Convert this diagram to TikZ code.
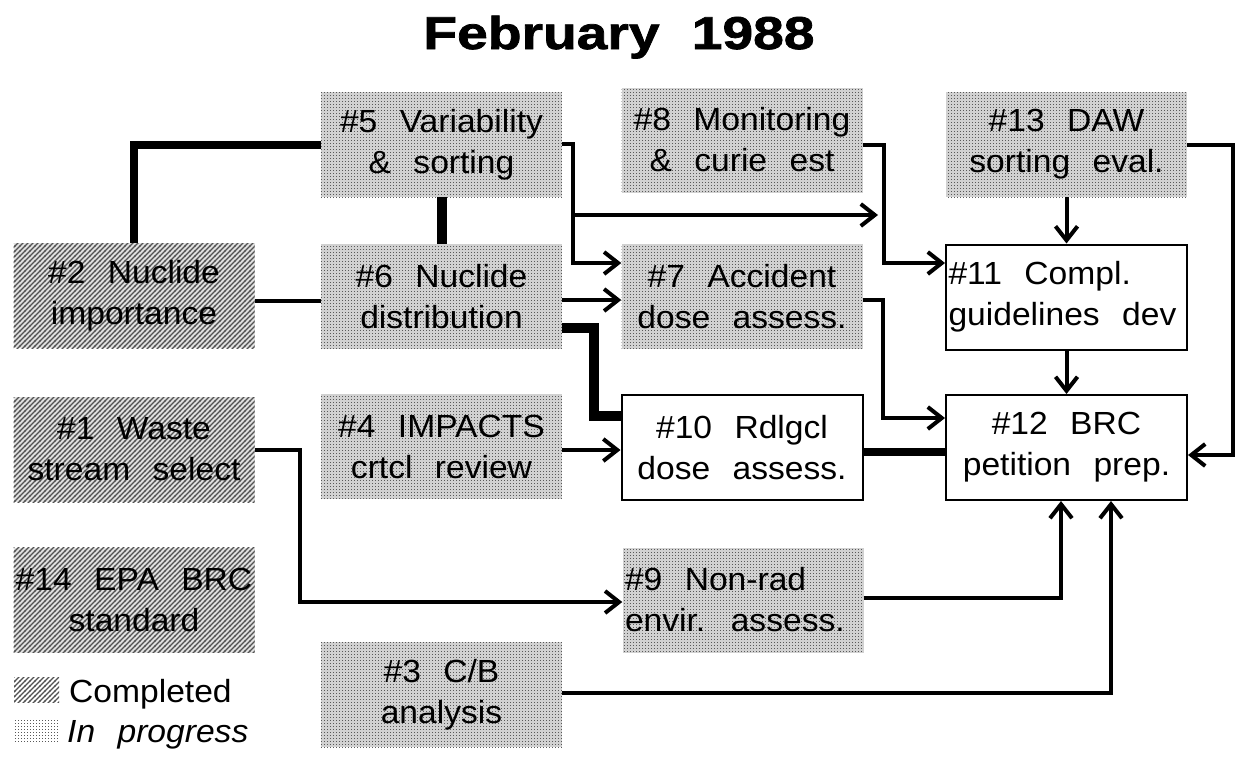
\documentclass[tikz,border=0pt]{standalone}
\usepackage{fontspec}
\setmainfont{Liberation Sans}[FakeStretch=1.05, WordSpace=2.4]
\newfontfamily\titlefont{Liberation Sans}[FakeStretch=1.2, WordSpace=2.1, FakeBold=1.6]
\usetikzlibrary{arrows.meta,patterns}
\pgfdeclarepatternformonly{myhatch}{\pgfqpoint{-1pt}{-1pt}}{\pgfqpoint{6pt}{6pt}}{\pgfqpoint{5pt}{5pt}}{%
  \pgfsetlinewidth{1.2pt}\pgfpathmoveto{\pgfqpoint{-0.5pt}{-0.5pt}}\pgfpathlineto{\pgfqpoint{5.5pt}{5.5pt}}\pgfusepath{stroke}}
\pgfdeclarepatternformonly{mydots}{\pgfqpoint{0pt}{0pt}}{\pgfqpoint{3pt}{3pt}}{\pgfqpoint{3pt}{3pt}}{%
  \pgfpathrectangle{\pgfqpoint{0pt}{0pt}}{\pgfqpoint{1.2pt}{1.2pt}}\pgfusepath{fill}}
\definecolor{hatchbg}{gray}{0.88}
\definecolor{hatchfg}{gray}{0.32}
\definecolor{dotbg}{gray}{0.82}
\definecolor{dotfg}{gray}{0.35}
\newcommand\CL[1]{\makebox[236pt][c]{#1}}
\newcommand\LL[1]{\makebox[236pt][l]{#1}}
\tikzset{
  box/.style={minimum width=241pt, minimum height=105pt, inner sep=0pt, align=center,
    font=\fontsize{32}{41}\selectfont},
  done/.style={box, preaction={fill=hatchbg}, pattern=myhatch, pattern color=hatchfg},
  prog/.style={box, preaction={fill=dotbg}, pattern=mydots, pattern color=dotfg},
  plain/.style={box, draw=black, line width=2pt, fill=white},
  arr/.style={line width=4pt, line join=miter, -{Straight Barb[length=14pt,width=22pt]}},
  ln/.style={line width=4.5pt},
  med/.style={line width=8pt, line join=miter},
  heavy/.style={line width=10pt, line join=miter},
  legtext/.style={font=\fontsize{32}{41}\selectfont, inner sep=0pt},
}
\begin{document}
\begin{tikzpicture}[x=1pt, y=-1pt]
\fill[white] (0,0) rectangle (1238,756);
\useasboundingbox (0,0) rectangle (1238,756);

\node[anchor=base, inner sep=0pt, font=\titlefont\bfseries\fontsize{46}{50}\selectfont] (title) at (619,49) {February 1988};

% row 1
\node[prog] (n5) at (441.5,144.5) {\CL{\#5 Variability}\\\CL{\& sorting}};
\node[prog] (n8) at (742,140) {\CL{\#8 Monitoring}\\\CL{\& curie est}};
\node[prog] (n13) at (1066.5,144.5) {\CL{\#13 DAW}\\\CL{sorting eval.}};
% row 2
\node[done] (n2) at (134,295.5) {\CL{\#2 Nuclide}\\\CL{importance}};
\node[prog] (n6) at (441.5,296.5) {\CL{\#6 Nuclide}\\\CL{distribution}};
\node[prog] (n7) at (742,296.5) {\CL{\#7 Accident}\\\CL{dose assess.}};
\node[plain] (n11) at (1066.5,297) {\LL{\#11 Compl.}\\\LL{guidelines dev}};
% row 3
\node[done] (n1) at (134,449.5) {\CL{\#1 Waste}\\\CL{stream select}};
\node[prog] (n4) at (441.5,446.5) {\CL{\#4 IMPACTS}\\\CL{crtcl review}};
\node[plain] (n10) at (742,447.5) {\CL{\#10 Rdlgcl}\\\CL{dose assess.}};
\node[plain] (n12) at (1066.5,447.5) {\CL{\#12 BRC}\\\CL{petition prep.}};
% row 4
\node[done] (n14) at (134,600) {\CL{\#14 EPA BRC}\\\CL{standard}};
\node[prog] (n9) at (743,600) {\LL{\#9 Non-rad}\\\LL{envir. assess.}};
\node[prog] (n3) at (441.5,694.5) {\CL{\#3 C/B}\\\CL{analysis}};

% legend
\path[pattern=myhatch, pattern color=hatchfg] (14,677) rectangle (59,702);
\node[legtext, anchor=base west] (lg1) at (69,702) {Completed};
\path[pattern=mydots, pattern color=dotfg] (14,720) rectangle (59,743);
\node[legtext, anchor=base west] (lg2) at (67,742) {\itshape In progress};

% connectors
\coordinate (j8) at (878,215);
\draw[med] (n2.north) |- (n5.west);
\draw[heavy] (n5.south) -- (n6.north);
\draw[ln] (n2.east |- 0,301) -- (n6.west |- 0,301);
\draw[arr] (n5.east |- 0,144) -| (573,263) -- (n7.west |- 0,263);
\draw[arr] (573,215) -- (j8);
\draw[arr] (n8.east |- 0,145) -| (884,263) -- (n11.west |- 0,263);
\draw[arr] (n6.east |- 0,300) -- (n7.west |- 0,300);
\draw[heavy] (n6.east |- 0,328) -| (594,416) -- (n10.west |- 0,416);
\draw[arr] (n13.south) -- (n11.north);
\draw[arr] (n11.south) -- (n12.north);
\draw[arr] (n13.east |- 0,145) -| (1233,455) -- (n12.east |- 0,455);
\draw[arr] (n7.east |- 0,300) -| (883,418) -- (n12.west |- 0,418);
\draw[arr] (n4.east |- 0,450) -- (n10.west |- 0,450);
\draw[med] (n10.east |- 0,452) -- (n12.west |- 0,452);
\draw[arr] (n1.east |- 0,450) -| (300,602) -- (n9.west |- 0,602);
\draw[arr] (n9.east |- 0,598) -| (n12.south -| 1061,0);
\draw[arr] (n3.east |- 0,693) -| (n12.south -| 1111,0);
\end{tikzpicture}
\end{document}
